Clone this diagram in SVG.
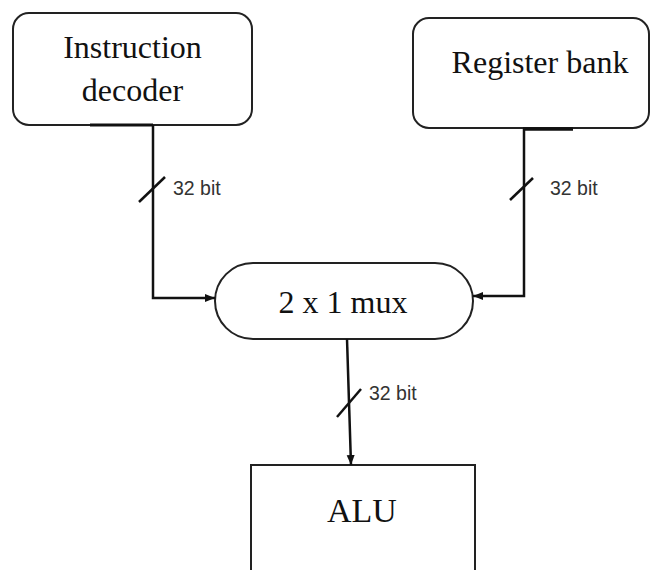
<svg xmlns="http://www.w3.org/2000/svg" width="651" height="570" viewBox="0 0 651 570">
<defs>
<style>
.box{fill:#fff;stroke:#222;stroke-width:2}
.t{font-family:"Liberation Serif","Times New Roman",serif;font-size:32px;fill:#111;text-anchor:middle}
.w{fill:none;stroke:#111;stroke-width:2.5}
.s{stroke:#111;stroke-width:2.5}
.lbl{font-family:"Liberation Sans",Arial,sans-serif;font-size:19.5px;fill:#333}
</style>
<marker id="ah" viewBox="0 0 10 10" refX="10" refY="5" markerWidth="10" markerHeight="10" markerUnits="userSpaceOnUse" orient="auto">
<path d="M0,1 L10,5 L0,9 Z" fill="#111"/>
</marker>
</defs>
<g id="instruction-decoder">
<rect class="box" x="13" y="13" width="239" height="112" rx="16"/>
<text class="t" x="132.5" y="58">Instruction</text>
<text class="t" x="132.5" y="101">decoder</text>
</g>
<g id="register-bank">
<rect class="box" x="413" y="18" width="236" height="110" rx="16"/>
<text class="t" x="540" y="73">Register bank</text>
</g>
<g id="mux">
<rect class="box" x="215" y="263" width="258" height="76" rx="38"/>
<text class="t" x="343" y="313">2 x 1 mux</text>
</g>
<g id="alu">
<path class="box" d="M251,572 L251,465 L475,465 L475,572"/>
<text class="t" x="362" y="522" style="font-size:34px">ALU</text>
</g>
<g id="connectors">
<line class="s" x1="90" y1="125" x2="153" y2="125" style="stroke-width:3"/>
<path class="w" d="M153,125 L153,298 L215,298" marker-end="url(#ah)"/>
<line class="s" x1="139" y1="202" x2="165" y2="177"/>
<text class="lbl" x="173" y="195">32 bit</text>
<line class="s" x1="523" y1="129" x2="573" y2="129" style="stroke-width:3.5"/>
<path class="w" d="M524,129 L524,296 L473,296" marker-end="url(#ah)"/>
<line class="s" x1="510" y1="200" x2="533" y2="178"/>
<text class="lbl" x="550" y="195">32 bit</text>
<path class="w" d="M347,339 L351,465" marker-end="url(#ah)"/>
<line class="s" x1="337" y1="417" x2="361" y2="389"/>
<text class="lbl" x="369" y="400">32 bit</text>
</g>
</svg>
